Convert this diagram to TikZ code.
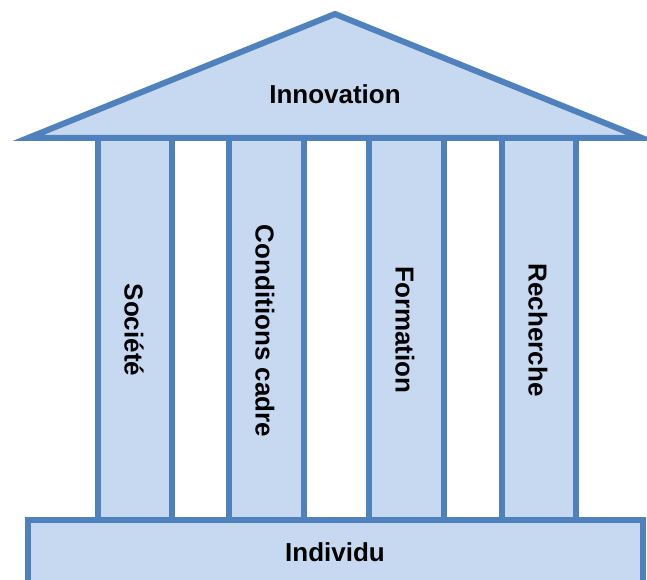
\documentclass[tikz,border=0pt]{standalone}
\usepackage{fontspec}
\setmainfont{Liberation Sans}
\definecolor{edgeblue}{HTML}{4F81BD}
\definecolor{fillblue}{HTML}{C6D9F1}
\begin{document}
\begin{tikzpicture}[x=1pt,y=-1pt,
  part/.style={draw=edgeblue,fill=fillblue,line width=6pt,line join=miter},
  lbl/.style={font=\fontsize{26}{30}\selectfont\bfseries,text=black,inner sep=0pt}]
\useasboundingbox (0,0) rectangle (647,580);
\clip (0,0) rectangle (647,580);
% columns
\draw[part] (98,138) rectangle (172,520);
\draw[part] (229,138) rectangle (304,520);
\draw[part] (369,138) rectangle (444,520);
\draw[part] (502,138) rectangle (576,520);
% roof
\draw[part] (28,138) -- (335,14) -- (642,138) -- cycle;
% base
\draw[part] (28,520) rectangle (643,600);
% labels
\node[lbl] (roof) at (335,94) {Innovation};
\node[lbl] (base) at (335,552) {Individu};
\node[lbl,rotate=-90] (c1) at (134,330) {Société};
\node[lbl,rotate=-90] (c2) at (265,331) {Conditions cadre};
\node[lbl,rotate=-90] (c3) at (405,330) {Formation};
\node[lbl,rotate=-90] (c4) at (538,330) {Recherche};
\end{tikzpicture}
\end{document}
